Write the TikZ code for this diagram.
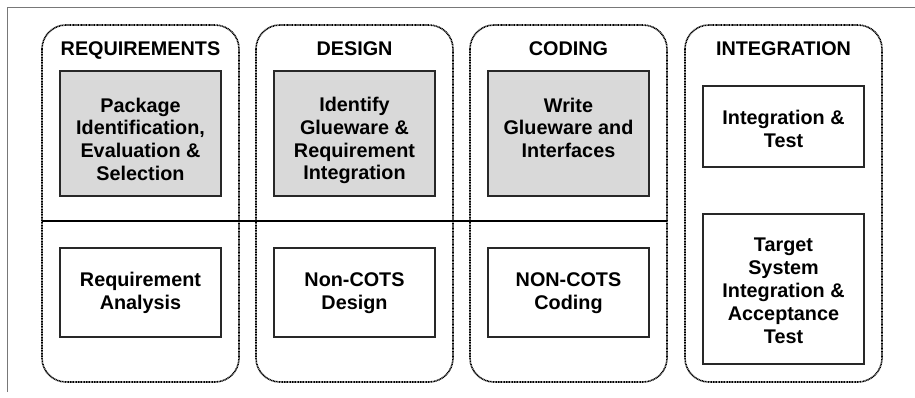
\documentclass[tikz,border=0pt]{standalone}
\usepackage{fontspec}
\setmainfont{Liberation Sans}
\definecolor{boxgray}{RGB}{217,217,217}
\definecolor{framegray}{RGB}{120,120,120}
\definecolor{linedark}{RGB}{40,40,40}
\begin{document}
\begin{tikzpicture}[x=1pt,y=-1pt,
  phase/.style={draw=black, line width=1.6pt, dash pattern=on 1pt off 0.6pt, rounded corners=24pt},
  taskbox/.style={draw=linedark, line width=1.1pt},
  graybox/.style={taskbox, fill=boxgray},
  lbl/.style={anchor=north, inner sep=0pt, align=center, font=\fontsize{19.8}{22.8}\selectfont\bfseries},
  title/.style={lbl}
]
\useasboundingbox (0,0) rectangle (915,397);
% frame
\draw[framegray, line width=0.9pt] (7,392) -- (7,7) -- (915,7);
% columns
\draw[phase] (42,25) rectangle (239,382);
\draw[phase] (256,25) rectangle (453,382);
\draw[phase] (470,25) rectangle (667,382);
\draw[phase] (685,25) rectangle (882,382);
% divider
\coordinate (dl) at (42,221);
\coordinate (dr) at (667,221);
\draw[line width=2pt] (dl) -- (dr);
% titles
\node[title] (t1) at (140.5,41) {REQUIREMENTS};
\node[title] (t2) at (354.5,41) {DESIGN};
\node[title] (t3) at (568.5,41) {CODING};
\node[title] (t4) at (783.5,41) {INTEGRATION};
% gray boxes
\draw[graybox] (60,71) rectangle (221,196);
\draw[graybox] (274,71) rectangle (435,196);
\draw[graybox] (488,71) rectangle (649,196);
% white boxes
\draw[taskbox] (703,86) rectangle (864,167);
\draw[taskbox] (60,248) rectangle (221,337);
\draw[taskbox] (274,248) rectangle (435,337);
\draw[taskbox] (488,248) rectangle (649,337);
\draw[taskbox] (703,214) rectangle (864,364);
% texts
\node[lbl] (a1) at (140.5,97.5) {Package\\Identification,\\Evaluation \&\\Selection};
\node[lbl] (a2) at (354.5,97) {Identify\\Glueware \&\\Requirement\\Integration};
\node[lbl] (a3) at (568.5,97.5) {Write\\Glueware and\\Interfaces};
\node[lbl] (a4) at (783.5,110) {Integration \&\\Test};
\node[lbl] (b1) at (140.5,272) {Requirement\\Analysis};
\node[lbl] (b2) at (354.5,272.5) {Non-COTS\\Design};
\node[lbl] (b3) at (568.5,272.5) {NON-COTS\\Coding};
\node[lbl] (b4) at (783.5,238) {Target\\System\\Integration \&\\Acceptance\\Test};
\end{tikzpicture}
\end{document}
